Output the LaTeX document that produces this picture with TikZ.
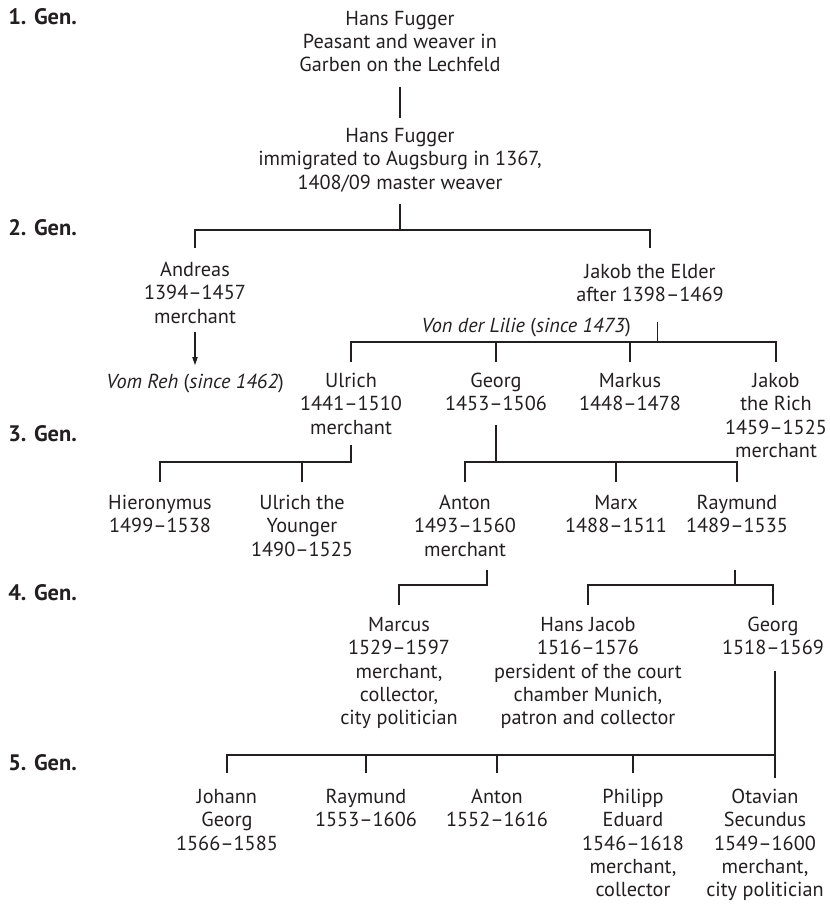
\documentclass[tikz,border=0pt]{standalone}
\usepackage{fontspec}
\setmainfont{PT Sans}
\usetikzlibrary{arrows.meta}
\definecolor{ink}{RGB}{35,31,32}
\newcommand\tfont{\fontsize{15.2pt}{17.5pt}\selectfont}
\newcommand\gfont{\fontsize{16.8pt}{19pt}\selectfont\bfseries}
\begin{document}
\begin{tikzpicture}[x=0.75pt,y=0.75pt,
  person/.style={align=center, inner sep=0pt, anchor=north, yshift=7.7pt,
    font=\tfont, text=ink},
  note/.style={inner sep=0pt, anchor=east, font=\tfont, text=ink},
  gen/.style={anchor=west, inner sep=0pt, font=\gfont, text=ink},
  link/.style={draw=ink, line width=0.8pt},
]
\useasboundingbox (0,0) rectangle (829,-906);

% generation labels
\node[gen] (g1) at (8,-17) {1. Gen.};
\node[gen] (g2) at (8,-228) {2. Gen.};
\node[gen] (g3) at (8,-434) {3. Gen.};
\node[gen] (g4) at (8,-593) {4. Gen.};
\node[gen] (g5) at (8,-763) {5. Gen.};

% persons
\node[person] (h1) at (400,-19) {\strut Hans Fugger\\Peasant and weaver in\\Garben on the Lechfeld\strut};
\node[person] (h2) at (400,-136) {\strut Hans Fugger\\immigrated to Augsburg in 1367,\\1408/09 master weaver\strut};
\node[person] (andreas) at (195,-270) {\strut Andreas\\1394–1457\\merchant\strut};
\node[person] (vomreh) at (195,-382) {\strut\textit{Vom Reh} (\textit{since 1462})\strut};
\node[person] (jakobE) at (650,-272) {\strut Jakob the Elder\\after 1398–1469\strut};
\node[note] (lilie) at (631,-328) {\textit{Von der Lilie} (\textit{since 1473})};

\node[person] (ulrich) at (351,-381) {\strut Ulrich\\1441–1510\\merchant\strut};
\node[person] (georg3) at (496,-381) {\strut Georg\\1453–1506\strut};
\node[person] (markus) at (630,-381) {\strut Markus\\1448–1478\strut};
\node[person] (jakobR) at (776,-381) {\strut Jakob\\the Rich\\1459–1525\\merchant\strut};

\node[person] (hieronymus) at (160,-503) {\strut Hieronymus\\1499–1538\strut};
\node[person] (ulrichY) at (302,-503) {\strut Ulrich the\\Younger\\1490–1525\strut};
\node[person] (anton4) at (465,-503) {\strut Anton\\1493–1560\\merchant\strut};
\node[person] (marx) at (616,-503) {\strut Marx\\1488–1511\strut};
\node[person] (raymund4) at (737,-503) {\strut Raymund\\1489–1535\strut};

\node[person] (marcus) at (399,-625) {\strut Marcus\\1529–1597\\merchant,\\collector,\\city politician\strut};
\node[person] (hansjacob) at (588,-625) {\strut Hans Jacob\\1516–1576\\persident of the court\\chamber Munich,\\patron and collector\strut};
\node[person] (georg5) at (773,-625) {\strut Georg\\1518–1569\strut};

\node[person] (johann) at (227,-797) {\strut Johann\\Georg\\1566–1585\strut};
\node[person] (raymund5) at (366,-797) {\strut Raymund\\1553–1606\strut};
\node[person] (anton5) at (497,-797) {\strut Anton\\1552–1616\strut};
\node[person] (philipp) at (633,-797) {\strut Philipp\\Eduard\\1546–1618\\merchant,\\collector\strut};
\node[person] (otavian) at (765,-797) {\strut Otavian\\Secundus\\1549–1600\\merchant,\\city politician\strut};

% bus and drop levels
\coordinate (b2) at (0,-230);  \coordinate (d2) at (0,-248);
\coordinate (b3) at (0,-342);  \coordinate (d3) at (0,-362);
\coordinate (b4) at (0,-462);  \coordinate (d4) at (0,-482);
\coordinate (b5) at (0,-585);  \coordinate (d5) at (0,-605);
\coordinate (b6) at (0,-755);  \coordinate (d6) at (0,-773);
\coordinate (d6e) at (0,-778);

% generation 1
\draw[link] ([yshift=-6pt]h1.south) -- ([yshift=6pt]h2.north);
% generation 2
\draw[link] ([yshift=-6pt]h2.south) -- (h2.south |- b2);
\draw[link] (andreas.north |- d2) -- (andreas.north |- b2) -- (jakobE.north |- b2) -- (jakobE.north |- d2);
\draw[link, -{Triangle[length=6pt,width=4pt]}] ([yshift=-1pt]andreas.south) -- ([yshift=5pt]vomreh.north);
% Jakob the Elder's children
\draw[link] ([xshift=5.5pt,yshift=-10pt]jakobE.south) coordinate (js) -- (js |- b3);
\draw[link] (ulrich.north |- d3) -- (ulrich.north |- b3) -- (jakobR.north |- b3) -- (jakobR.north |- d3);
\draw[link] (georg3.north |- d3) -- (georg3.north |- b3);
\draw[link] (markus.north |- d3) -- (markus.north |- b3);
% Ulrich's children
\draw[link] ([yshift=-3pt]ulrich.south) coordinate (us) -- (us |- b4) -- (hieronymus.north |- b4) -- (hieronymus.north |- d4);
\draw[link] (ulrichY.north |- d4) -- (ulrichY.north |- b4);
% Georg's children
\draw[link] ([yshift=-5pt]georg3.south) -- (georg3.south |- b4);
\draw[link] (anton4.north |- d4) -- (anton4.north |- b4) -- (raymund4.north |- b4) -- (raymund4.north |- d4);
\draw[link] (marx.north |- d4) -- (marx.north |- b4);
% Anton's son
\draw[link] ([xshift=16.5pt,yshift=-5pt]anton4.south) coordinate (as) -- (as |- b5) -- (marcus.north |- b5) -- (marcus.north |- d5);
% Raymund's sons
\draw[link] ([xshift=-1.5pt,yshift=-22.5pt]raymund4.south) coordinate (rs) -- (rs |- b5);
\draw[link] (hansjacob.north |- d5) -- (hansjacob.north |- b5) -- (georg5.north |- b5) -- (georg5.north |- d5);
% generation 5
\draw[link] ([xshift=1.5pt,yshift=-6.75pt]georg5.south) coordinate (gs) -- (gs |- d6e);
\draw[link] (gs |- b6) -- (johann.north |- b6) -- (johann.north |- d6);
\draw[link] (raymund5.north |- d6) -- (raymund5.north |- b6);
\draw[link] (anton5.north |- d6) -- (anton5.north |- b6);
\draw[link] (philipp.north |- d6) -- (philipp.north |- b6);
\end{tikzpicture}
\end{document}
